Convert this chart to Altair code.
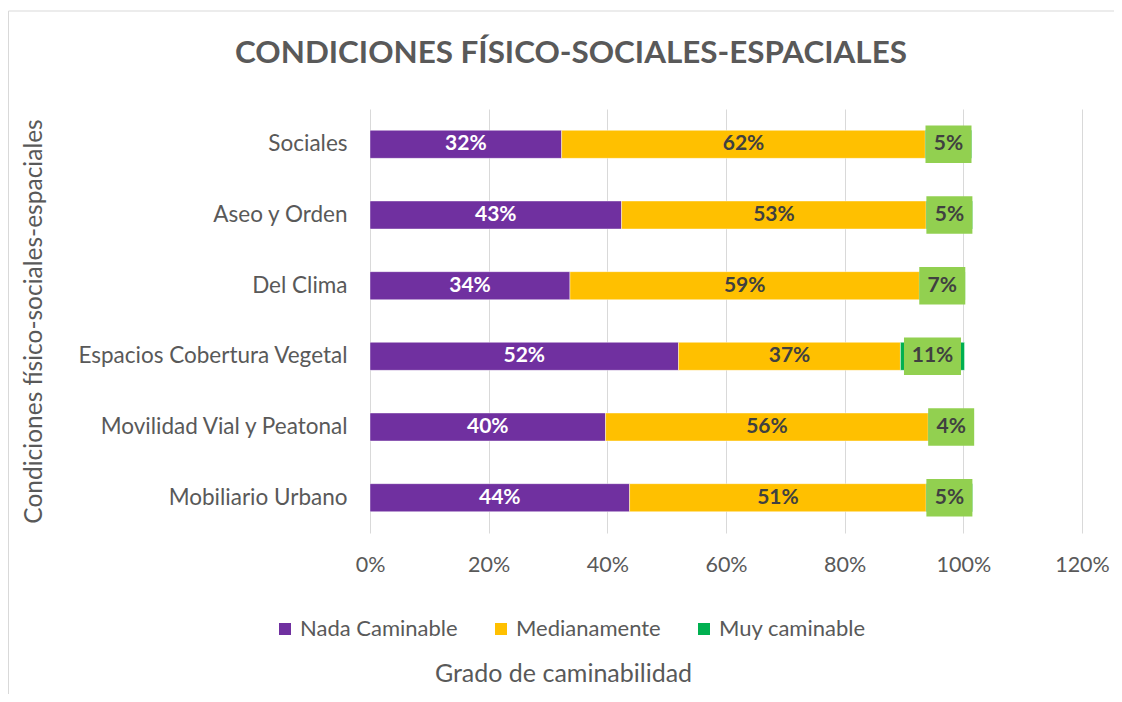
import altair as alt
import pandas as pd

categories = ["Sociales", "Aseo y Orden", "Del Clima", "Espacios Cobertura Vegetal",
              "Movilidad Vial y Peatonal", "Mobiliario Urbano"]
series = ["Nada Caminable", "Medianamente", "Muy caminable"]
colors = ["#7030A0", "#FFC000", "#00B050"]

nada = [32.3, 42.4, 33.7, 52.0, 39.7, 43.75]
medianamente = [61.3, 51.35, 58.9, 37.4, 54.4, 50.0]
muy = [7.8, 7.8, 7.7, 10.8, 7.7, 7.8]

nada_lbl = ["32%", "43%", "34%", "52%", "40%", "44%"]
medi_lbl = ["62%", "53%", "59%", "37%", "56%", "51%"]
muy_lbl = ["5%", "5%", "7%", "11%", "4%", "5%"]

x_ticks = [0, 20, 40, 60, 80, 100, 120]

rows = []
for i, c in enumerate(categories):
    for k, (vals, lbls) in enumerate([(nada, nada_lbl), (medianamente, medi_lbl), (muy, muy_lbl)]):
        rows.append({"cat": c, "serie": series[k], "ord": k, "val": vals[i] / 100, "lbl": lbls[i]})
df = pd.DataFrame(rows)

FONT = "Lato"
GREY = "#595959"

xscale = alt.Scale(domain=[0, 1.2], nice=False, zero=True)
yenc = alt.Y("cat:N", sort=categories, axis=alt.Axis(
    title="Condiciones físico-sociales-espaciales",
    labelFont=FONT, labelFontSize=22.5, labelColor=GREY, labelPadding=23, labelLimit=500,
    ticks=False, domain=False, grid=False,
    titleFont=FONT, titleFontSize=24.5, titleFontWeight="normal", titleColor=GREY,
    titleX=-336, titleY=212, titleAngle=270, titleAlign="center", titleBaseline="middle"))

base = (alt.Chart(df)
        .transform_stack(stack="val", groupby=["cat"], as_=["x0", "x1"],
                         sort=[alt.SortField("ord", order="ascending")])
        .transform_calculate(xm="(datum.x0 + datum.x1) / 2",
                             bw="length(datum.lbl) > 2 ? 'w' : 'n'"))

bars = base.mark_bar(size=28, stroke="white", strokeWidth=0.6, strokeOpacity=0.7).encode(
    x=alt.X("x0:Q", scale=xscale, axis=alt.Axis(
        values=[v / 100 for v in x_ticks], format=".0%",
        labelFont=FONT, labelFontSize=21.5, labelColor=GREY, labelPadding=21,
        labelFlush=False, labelBound=False, labelOverlap=False,
        ticks=False, domain=False, grid=True, gridColor="#D9D9D9", gridWidth=1,
        title="Grado de caminabilidad", titleFont=FONT, titleFontSize=25,
        titleFontWeight="normal", titleColor=GREY,
        titleX=193, titleY=140, titleAlign="center", titleBaseline="middle")),
    x2="x1:Q",
    y=yenc,
    color=alt.Color("serie:N", scale=alt.Scale(domain=series, range=colors),
                    legend=alt.Legend(title=None, orient="none", direction="horizontal",
                                      legendX=-96, legendY=509, symbolType="square",
                                      symbolSize=144, symbolStrokeWidth=0,
                                      labelFont=FONT, labelFontSize=22, labelColor=GREY,
                                      labelOffset=4, columnPadding=32, padding=0)),
)

p_narrow = "M-1.227,-1H1.227V1H-1.227Z"
p_wide = "M-1.52,-1H1.52V1H-1.52Z"

boxes = base.transform_filter(alt.datum.ord == 2).mark_point(
    filled=True, opacity=1, strokeWidth=0, size=1406, color="#92D050").encode(
    x=alt.X("xm:Q", scale=xscale),
    y=alt.Y("cat:N", sort=categories),
    shape=alt.Shape("bw:N", scale=alt.Scale(domain=["n", "w"], range=[p_narrow, p_wide]),
                    legend=None),
)

labels = base.mark_text(font=FONT, fontSize=21, fontWeight="bold", baseline="middle",
                        align="center").encode(
    x=alt.X("xm:Q", scale=xscale),
    y=alt.Y("cat:N", sort=categories),
    text="lbl:N",
    color=alt.condition(alt.datum.ord == 0, alt.value("white"), alt.value("#404040")),
)

frame = alt.Chart(alt.Data(values=[{"a": 1}])).mark_rect(
    fill=None, stroke="#D9D9D9", strokeWidth=1).encode(
    x=alt.value(-361.5), y=alt.value(-98), x2=alt.value(2000), y2=alt.value(2000))

chart = alt.layer(frame, bars, boxes, labels).properties(
    width=712, height=424,
    background="white",
    padding={"left": 362, "top": 101, "right": 32, "bottom": 161},
    autosize=alt.AutoSizeParams(type="none"),
    title=alt.TitleParams(text="CONDICIONES FÍSICO-SOCIALES-ESPACIALES", font=FONT,
                          fontSize=31.4, fontWeight="bold", color=GREY, anchor="middle",
                          baseline="alphabetic", dx=-155, dy=84, offset=0),
).configure_view(stroke=None)

chart.save("out.html", embed_options={"renderer": "svg", "actions": False})
